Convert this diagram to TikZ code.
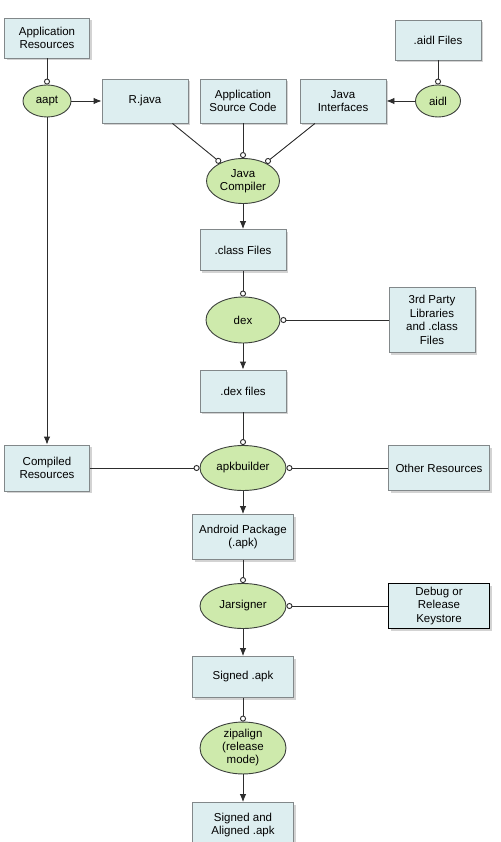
\documentclass[tikz,border=0pt]{standalone}
\usepackage{fontspec}
\setmainfont{Liberation Sans}
\usetikzlibrary{arrows.meta,%
                shapes.geometric,%
                shadows}

\definecolor{boxfill}{RGB}{221,238,240}
\definecolor{boxline}{RGB}{130,136,138}
\definecolor{toolfill}{RGB}{206,234,172}
\definecolor{toolline}{RGB}{60,64,60}
\definecolor{edgecol}{RGB}{45,45,45}

\tikzset{BoxStyle/.style = {draw=boxline,fill=boxfill,line width=0.9pt,
                            minimum width=86pt,minimum height=42pt,inner sep=1pt,
                            align=center,font=\fontsize{11.5}{13.5}\selectfont,
                            drop shadow={shadow xshift=2pt,shadow yshift=-2pt,opacity=0.35}},
         ToolStyle/.style = {ellipse,draw=toolline,fill=toolfill,line width=0.9pt,
                             inner sep=0pt,align=center,
                             font=\fontsize{11.5}{13}\selectfont},
         EdgeStyle/.style = {draw=edgecol,line width=0.9pt,-{Latex[length=8pt,width=6.5pt]}},
         FeedStyle/.style = {draw=edgecol,line width=0.9pt,-{Circle[open,length=6pt,fill=white]}}}

\begin{document}
\begin{tikzpicture}[x=1pt,y=-1pt]
		\useasboundingbox (0,0) rectangle (500,842);
		% sources at the top
		\node[BoxStyle,minimum width=85pt,minimum height=40pt] (appres) at (47,38) {Application\\Resources};
		\node[BoxStyle,minimum height=40pt] (aidlfiles) at (438,40) {.aidl Files};
		{
			\tikzset{BoxStyle/.append style = {minimum height=44pt}}
			\node[BoxStyle] (rjava) at (145,101) {R.java};
			\node[BoxStyle] (appsrc) at (243,101) {Application\\Source Code};
			\node[BoxStyle] (javaif) at (343,101) {Java\\Interfaces};
		}
		\node[ToolStyle,minimum width=48pt,minimum height=32pt] (aapt) at (47,101) {aapt};
		\node[ToolStyle,minimum width=45pt,minimum height=32pt] (aidl) at (438,101) {aidl};
		% main column
		\node[ToolStyle,minimum width=73pt,minimum height=45pt] (javac) at (243,181) {Java\\Compiler};
		\node[BoxStyle,minimum height=41pt] (classfiles) at (243,250) {.class Files};
		\node[ToolStyle,minimum width=74pt,minimum height=46pt] (dex) at (243,320) {dex};
		\node[BoxStyle,minimum height=65pt] (thirdparty) at (432,320) {3rd Party\\Libraries\\and .class\\Files};
		\node[BoxStyle] (dexfiles) at (243,391) {.dex files};
		\node[BoxStyle,minimum width=85pt,minimum height=46pt] (compres) at (47,468) {Compiled\\Resources};
		\node[ToolStyle,minimum width=86pt,minimum height=45pt] (apkbuilder) at (243,468) {apkbuilder};
		{
			\tikzset{BoxStyle/.append style = {minimum width=101pt,minimum height=45pt}}
			\node[BoxStyle] (otherres) at (439,468) {Other Resources};
			\node[BoxStyle] (apk) at (243,537) {Android Package\\(.apk)};
			\node[BoxStyle,draw=black,line width=1.3pt] (keystore) at (439,606) {Debug or\\Release\\Keystore};
			\node[BoxStyle,minimum height=41pt] (signed) at (243,677) {Signed .apk};
			\node[BoxStyle] (aligned) at (243,825) {Signed and\\Aligned .apk};
		}
		\node[ToolStyle,minimum width=86pt,minimum height=45pt] (jarsigner) at (243,606) {Jarsigner};
		\node[ToolStyle,minimum width=86pt,minimum height=47pt] (zipalign) at (243,748) {zipalign\\(release\\mode)};
		% inputs
		\draw[FeedStyle] (appres) -- (aapt);
		\draw[FeedStyle] (aidlfiles) -- (aidl);
		\draw[FeedStyle] (rjava) -- (javac);
		\draw[FeedStyle] (appsrc) -- (javac);
		\draw[FeedStyle] (javaif) -- (javac);
		\draw[FeedStyle] (classfiles) -- (dex);
		\draw[FeedStyle] (thirdparty) -- (dex);
		\draw[FeedStyle] (dexfiles) -- (apkbuilder);
		\draw[FeedStyle] (compres) -- (apkbuilder);
		\draw[FeedStyle] (otherres) -- (apkbuilder);
		\draw[FeedStyle] (apk) -- (jarsigner);
		\draw[FeedStyle] (keystore) -- (jarsigner);
		\draw[FeedStyle] (signed) -- (zipalign);
		% outputs
		\draw[EdgeStyle] (aapt) -- (rjava);
		\draw[EdgeStyle] (aapt) -- (compres);
		\draw[EdgeStyle] (aidl) -- (javaif);
		\draw[EdgeStyle] (javac) -- (classfiles);
		\draw[EdgeStyle] (dex) -- (dexfiles);
		\draw[EdgeStyle] (apkbuilder) -- (apk);
		\draw[EdgeStyle] (jarsigner) -- (signed);
		\draw[EdgeStyle] (zipalign) -- (aligned);
	\end{tikzpicture}
\end{document}
